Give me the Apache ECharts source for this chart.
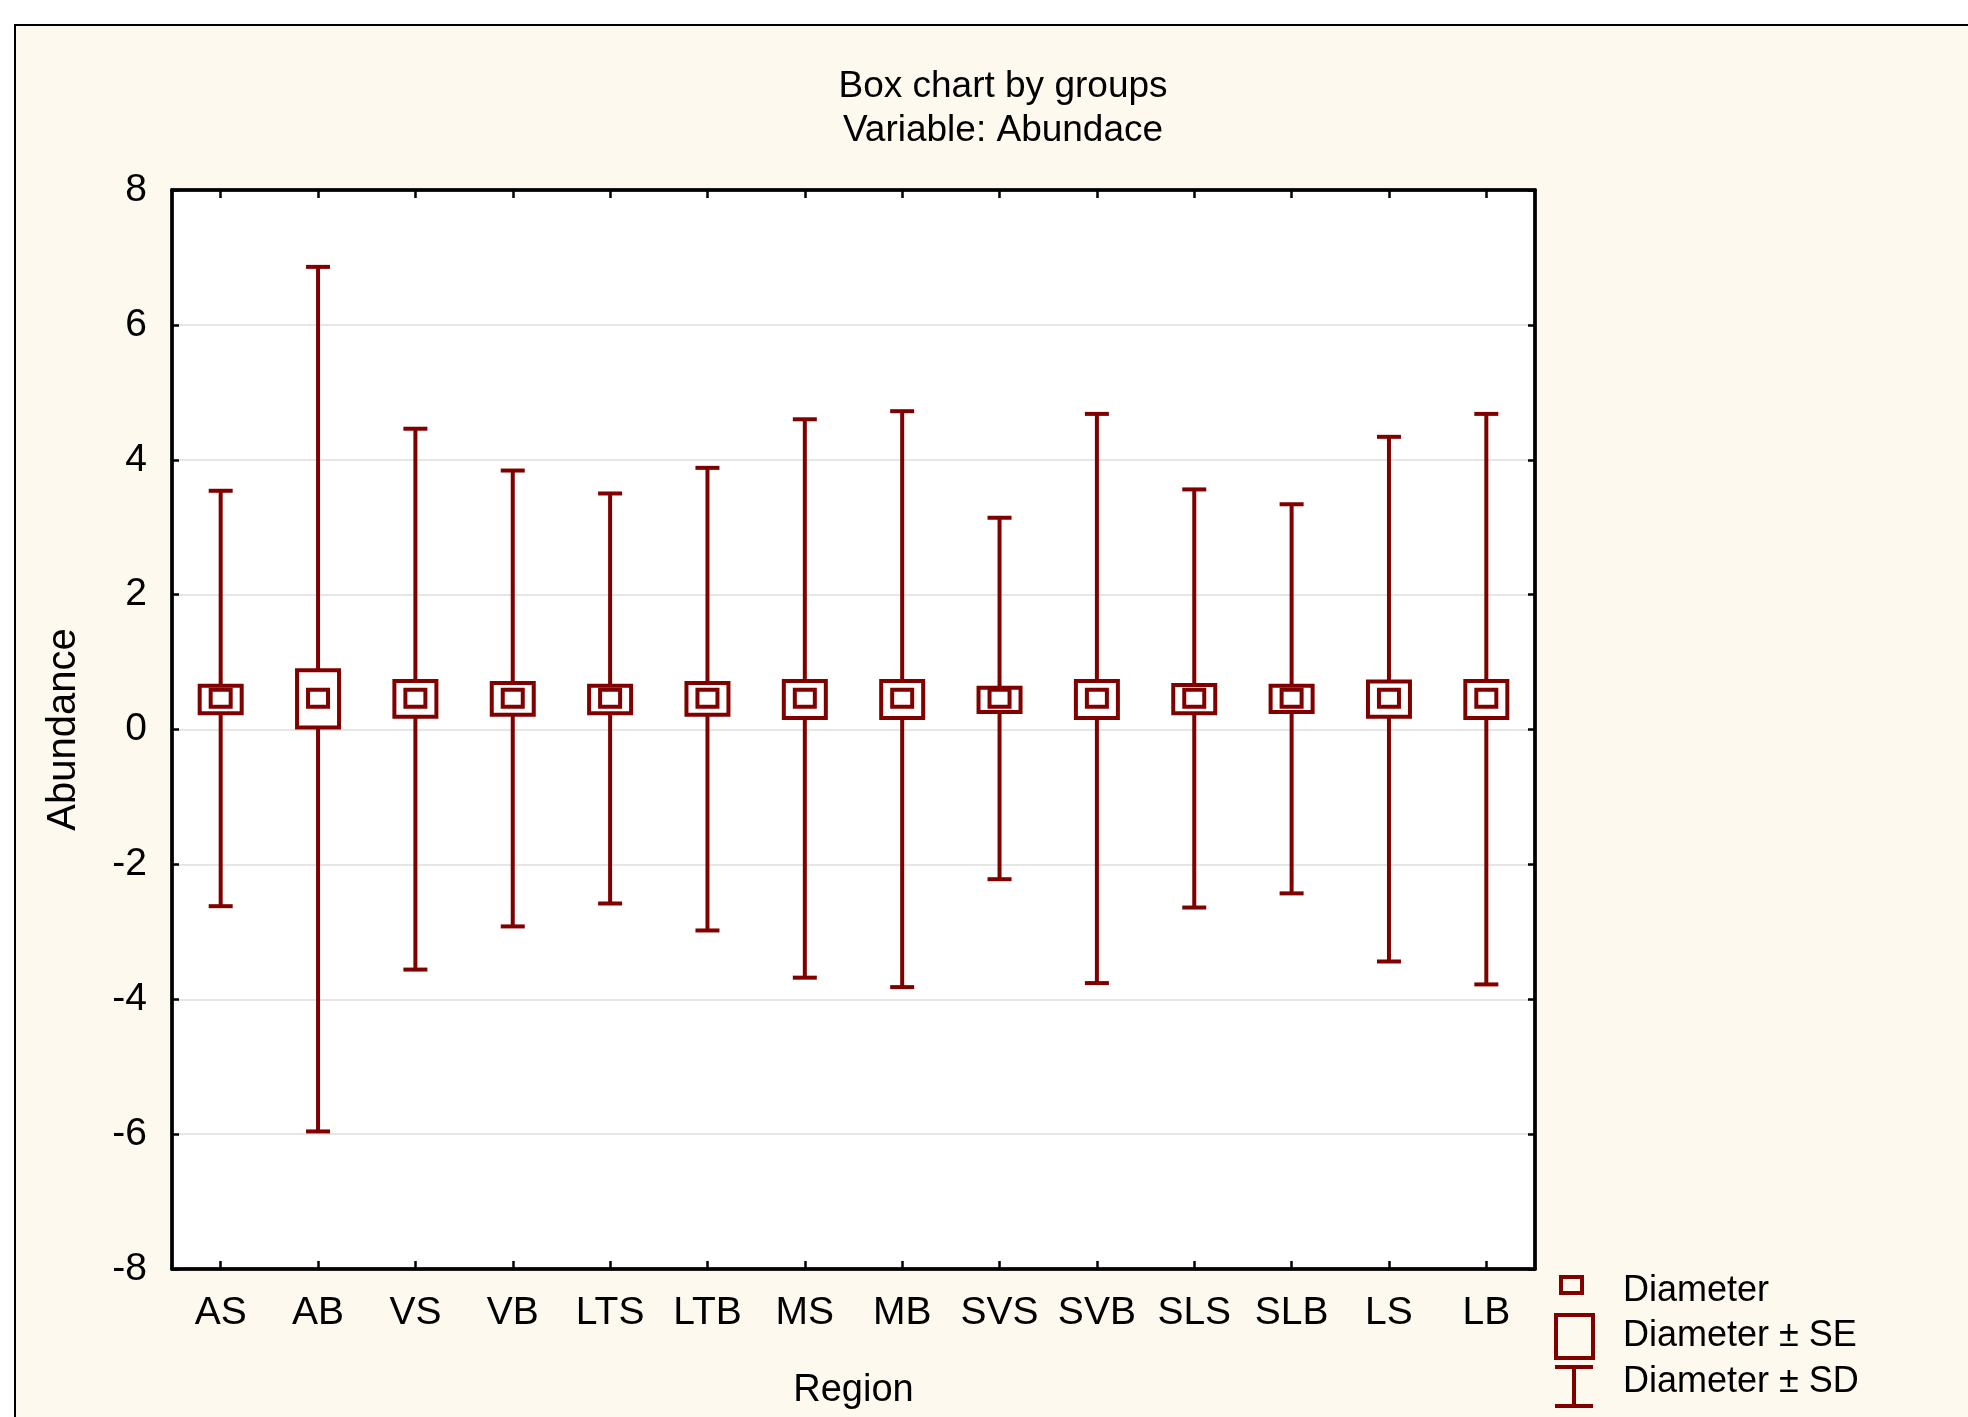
<!DOCTYPE html>
<html>
<head>
<meta charset="utf-8">
<script src="https://cdn.jsdelivr.net/npm/echarts@6/dist/echarts.min.js"></script>
<style>
html, body { margin: 0; padding: 0; background: #fff; }
#box { width: 1968px; height: 1417px; }
</style>
</head>
<body>
<div id="box"></div>
<script>
// values (mean, +-SE, +-SD per region)
var categories = ['AS', 'AB', 'VS', 'VB', 'LTS', 'LTB', 'MS', 'MB', 'SVS', 'SVB', 'SLS', 'SLB', 'LS', 'LB'];
var meanVals = [0.47, 0.47, 0.47, 0.47, 0.47, 0.47, 0.47, 0.47, 0.47, 0.47, 0.47, 0.47, 0.47, 0.47];
var seHigh = [0.65, 0.88, 0.72, 0.69, 0.65, 0.69, 0.72, 0.72, 0.62, 0.72, 0.66, 0.65, 0.71, 0.72];
var seLow = [0.24, 0.03, 0.19, 0.22, 0.24, 0.22, 0.17, 0.17, 0.26, 0.17, 0.24, 0.26, 0.19, 0.17];
var sdHigh = [3.54, 6.86, 4.46, 3.84, 3.50, 3.88, 4.60, 4.72, 3.14, 4.68, 3.56, 3.34, 4.34, 4.68];
var sdLow = [-2.62, -5.96, -3.56, -2.92, -2.58, -2.98, -3.68, -3.82, -2.22, -3.76, -2.64, -2.43, -3.44, -3.78];
var yTicks = [-8, 8, 2]; // min, max, step

var myChart = echarts.init(document.getElementById('box'));
var red = '#800000';
var font = 'Liberation Sans, Arial, sans-serif';
var lw = 4;

var boxData = [];
for (var i = 0; i < categories.length; i++) {
    boxData.push([i, meanVals[i], seLow[i], seHigh[i], sdLow[i], sdHigh[i]]);
}

function renderBox(params, api) {
    var idx = api.value(0);
    var pMean = api.coord([idx, api.value(1)]);
    var pSeLo = api.coord([idx, api.value(2)]);
    var pSeHi = api.coord([idx, api.value(3)]);
    var pSdLo = api.coord([idx, api.value(4)]);
    var pSdHi = api.coord([idx, api.value(5)]);
    var x = pMean[0];
    var st = { stroke: red, lineWidth: lw, fill: null };
    return {
        type: 'group',
        children: [
            { type: 'line', shape: { x1: x, y1: pSdHi[1], x2: x, y2: pSdLo[1] }, style: st },
            { type: 'line', shape: { x1: x - 12, y1: pSdHi[1], x2: x + 12, y2: pSdHi[1] }, style: st },
            { type: 'line', shape: { x1: x - 12, y1: pSdLo[1], x2: x + 12, y2: pSdLo[1] }, style: st },
            { type: 'rect', shape: { x: x - 21, y: pSeHi[1], width: 42, height: pSeLo[1] - pSeHi[1] },
              style: { stroke: red, lineWidth: lw, fill: '#fff' } },
            { type: 'rect', shape: { x: x - 10, y: pMean[1] - 8, width: 20, height: 17 },
              style: { stroke: red, lineWidth: lw, fill: '#fff' } }
        ]
    };
}

var axisLine = { show: true, onZero: false, lineStyle: { color: '#000', width: 3.5 } };
var tick = { show: true, inside: true, length: 7, lineStyle: { color: '#000', width: 2.5 } };
var legendText = { fill: '#000', fontSize: 36, fontFamily: font, textVerticalAlign: 'middle', verticalAlign: 'middle' };

option = {
    backgroundColor: '#ffffff',
    animation: false,
    title: {
        text: 'Box chart by groups\nVariable: Abundace',
        left: 998,
        top: 60,
        textAlign: 'center',
        textStyle: { color: '#000', fontSize: 37, fontWeight: 'normal', fontFamily: font, lineHeight: 44 }
    },
    grid: {
        show: true,
        left: 172,
        top: 190,
        width: 1363,
        height: 1079,
        backgroundColor: '#ffffff',
        borderColor: '#000',
        borderWidth: 3
    },
    xAxis: [{
        type: 'category',
        data: categories,
        position: 'bottom',
        axisLine: axisLine,
        axisTick: { show: true, inside: true, alignWithLabel: true, length: 8, lineStyle: { color: '#000', width: 2.5 } },
        axisLabel: { interval: 0, margin: 25, color: '#000', fontSize: 39, fontFamily: font },
        splitLine: { show: false },
        name: 'Region',
        nameLocation: 'middle',
        nameGap: 103,
        nameTextStyle: { color: '#000', fontSize: 38, fontFamily: font }
    }, {
        type: 'category',
        data: categories,
        position: 'top',
        axisLine: axisLine,
        axisTick: { show: true, inside: true, alignWithLabel: true, length: 8, lineStyle: { color: '#000', width: 2.5 } },
        axisLabel: { show: false },
        splitLine: { show: false }
    }],
    yAxis: [{
        type: 'value',
        min: yTicks[0],
        max: yTicks[1],
        interval: yTicks[2],
        axisLine: axisLine,
        axisTick: tick,
        axisLabel: { margin: 25, color: '#000', fontSize: 39, fontFamily: font },
        splitLine: { show: true, lineStyle: { color: '#dedede', width: 1.5 } },
        name: 'Abundance',
        nameLocation: 'middle',
        nameRotate: 90,
        nameGap: 88,
        nameTextStyle: { color: '#000', fontSize: 40, fontFamily: font }
    }, {
        type: 'value',
        min: yTicks[0],
        max: yTicks[1],
        interval: yTicks[2],
        position: 'right',
        axisLine: axisLine,
        axisTick: tick,
        axisLabel: { show: false },
        splitLine: { show: false }
    }],
    series: [{
        name: 'Diameter',
        type: 'custom',
        renderItem: renderBox,
        encode: { x: 0, y: [1, 2, 3, 4, 5] },
        data: boxData,
        z: 10
    }],
    graphic: [
        // cream panel behind everything
        { type: 'rect', z: -100, silent: true, shape: { x: 15, y: 25, width: 2000, height: 1450 },
          style: { fill: '#fdf9ef', stroke: '#000', lineWidth: 2 } },
        // legend
        { type: 'rect', z: 100, shape: { x: 1561, y: 1277, width: 21, height: 16 },
          style: { fill: null, stroke: red, lineWidth: lw } },
        { type: 'text', z: 100, x: 1623, y: 1291, style: Object.assign({ text: 'Diameter' }, legendText) },
        { type: 'rect', z: 100, shape: { x: 1556, y: 1315, width: 37, height: 43 },
          style: { fill: null, stroke: red, lineWidth: lw } },
        { type: 'text', z: 100, x: 1623, y: 1336, style: Object.assign({ text: 'Diameter ± SE' }, legendText) },
        { type: 'line', z: 100, shape: { x1: 1574, y1: 1367, x2: 1574, y2: 1406 },
          style: { stroke: red, lineWidth: lw } },
        { type: 'line', z: 100, shape: { x1: 1555, y1: 1367, x2: 1593, y2: 1367 },
          style: { stroke: red, lineWidth: lw } },
        { type: 'line', z: 100, shape: { x1: 1555, y1: 1406, x2: 1593, y2: 1406 },
          style: { stroke: red, lineWidth: lw } },
        { type: 'text', z: 100, x: 1623, y: 1382, style: Object.assign({ text: 'Diameter ± SD' }, legendText) }
    ]
};
myChart.setOption(option);
</script>
</body>
</html>
